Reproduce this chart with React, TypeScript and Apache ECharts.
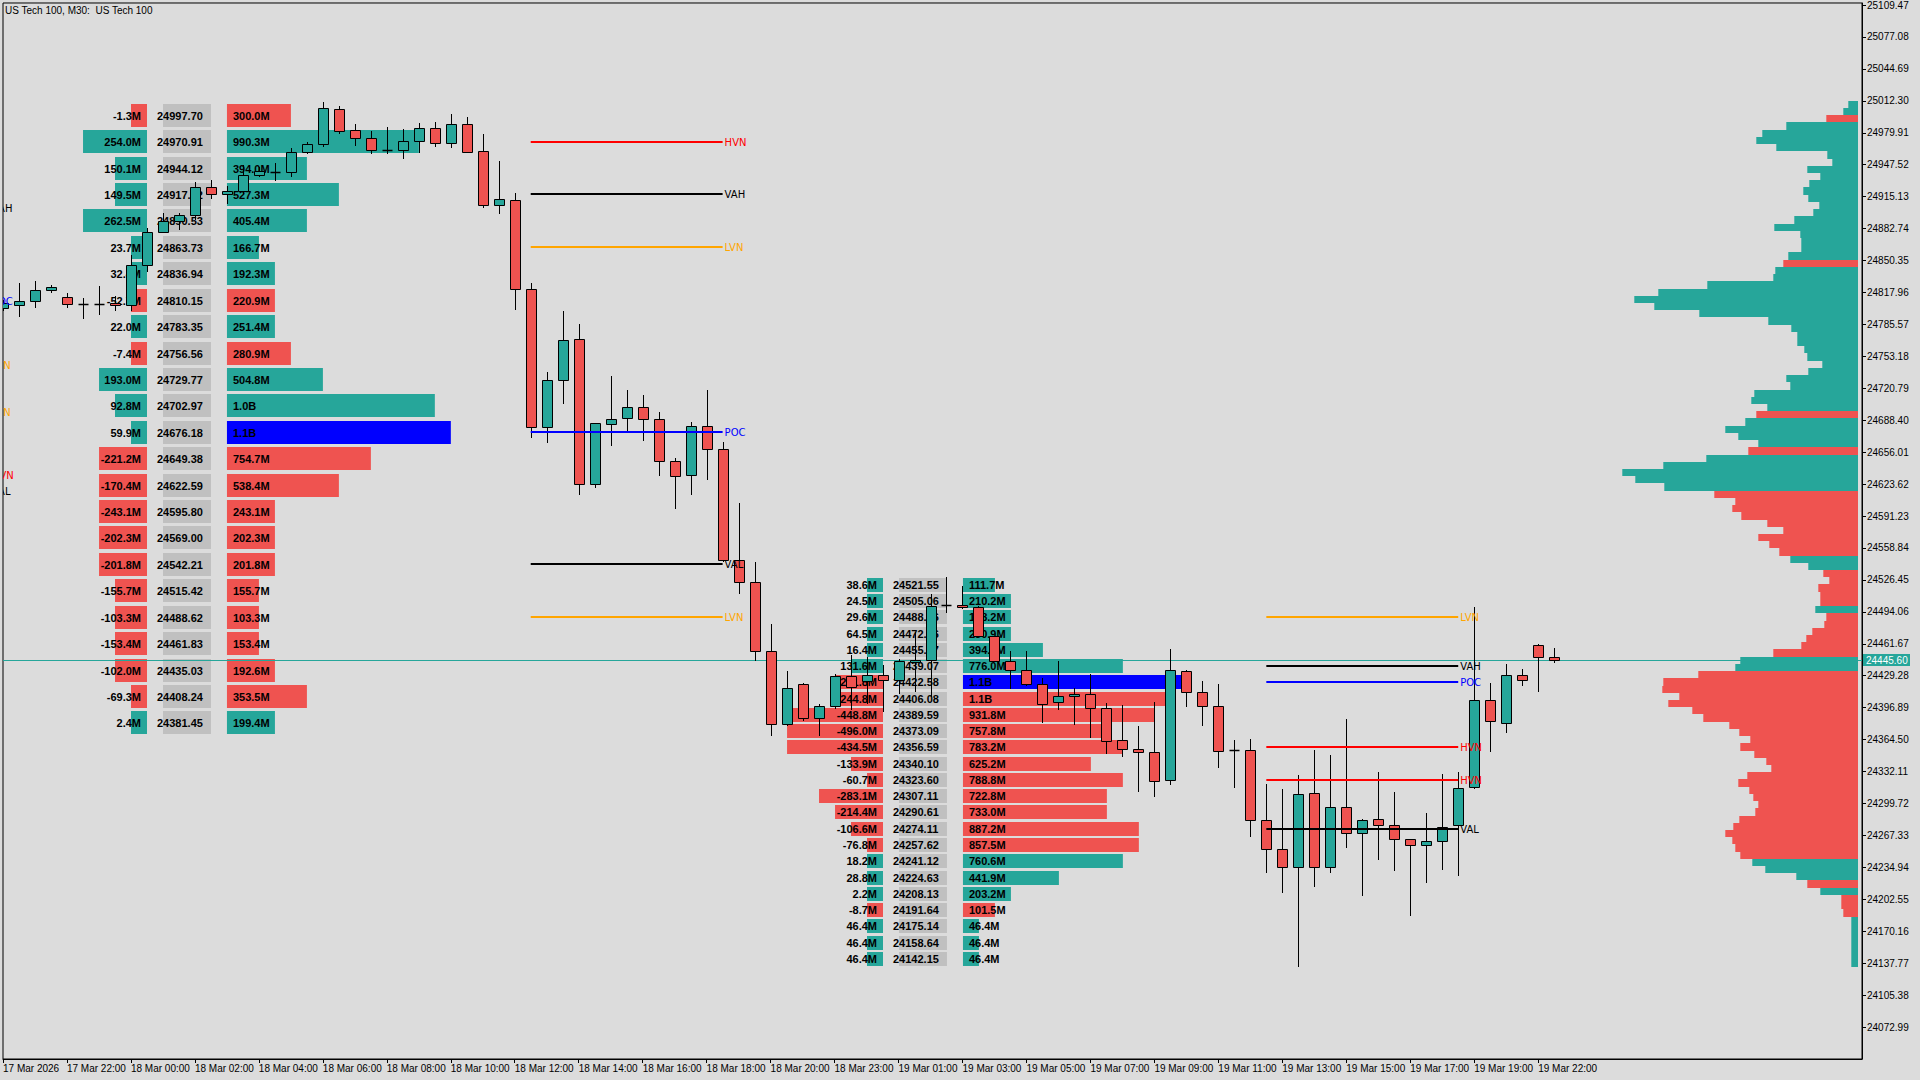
import React, { useEffect, useRef } from "react";
import * as echarts from "echarts";

// ---------- DATA ----------
const TITLE = "US Tech 100, M30:  US Tech 100";

const xTickLabels = [
  "17 Mar 2026", "17 Mar 22:00", "18 Mar 00:00", "18 Mar 02:00", "18 Mar 04:00",
  "18 Mar 06:00", "18 Mar 08:00", "18 Mar 10:00", "18 Mar 12:00", "18 Mar 14:00",
  "18 Mar 16:00", "18 Mar 18:00", "18 Mar 20:00", "18 Mar 23:00", "19 Mar 01:00",
  "19 Mar 03:00", "19 Mar 05:00", "19 Mar 07:00", "19 Mar 09:00", "19 Mar 11:00",
  "19 Mar 13:00", "19 Mar 15:00", "19 Mar 17:00", "19 Mar 19:00", "19 Mar 22:00",
];
const xTickEveryBars = 4;

const yTickValues = [
  24072.99, 24105.38, 24137.77, 24170.16, 24202.55, 24234.94, 24267.33, 24299.72,
  24332.11, 24364.5, 24396.89, 24429.28, 24461.67, 24494.06, 24526.45, 24558.84,
  24591.23, 24623.62, 24656.01, 24688.4, 24720.79, 24753.18, 24785.57, 24817.96,
  24850.35, 24882.74, 24915.13, 24947.52, 24979.91, 25012.3, 25044.69, 25077.08, 25109.47,
];
const yMin = 24040.6;
const yMax = 25111.5;
const yInterval = 32.39;

const opens = [
  24802.0, 24805.7, 24809.7, 24820.4, 24813.8, 24806.7, 24806.7, 24807.3, 24805.0, 24846.1,
  24879.1, 24890.7, 24896.7, 24925.1, 24917.6, 24921.0, 24937.2, 24940.6, 24939.9, 24960.1,
  24968.2, 25004.0, 24982.8, 24974.3, 24962.5, 24962.5, 24971.6, 24985.1, 24969.2, 24989.1,
  24961.5, 24907.1, 24912.0, 24821.6, 24681.2, 24729.5, 24771.1, 24623.8, 24684.3, 24690.2,
  24701.4, 24689.3, 24646.8, 24633.2, 24682.1, 24659.0, 24547.0, 24524.3, 24454.8, 24380.7,
  24421.1, 24386.7, 24398.9, 24429.0, 24423.7, 24429.8, 24425.2, 24443.4, 24445.4, 24501.1,
  24501.1, 24499.1, 24469.3, 24444.7, 24435.3, 24421.1, 24402.9, 24408.9, 24411.0, 24396.8,
  24364.1, 24354.9, 24352.3, 24324.0, 24434.3, 24413.0, 24398.2, 24353.6, 24354.3, 24282.5,
  24253.2, 24235.0, 24310.8, 24235.0, 24296.6, 24269.3, 24283.5, 24277.4, 24263.2, 24257.2,
  24261.2, 24277.4, 24316.9, 24404.9, 24381.7, 24430.2, 24460.6, 24448.4,
];
const highs = [
  24810.0, 24827.2, 24829.2, 24825.9, 24817.1, 24812.4, 24824.2, 24814.1, 24855.6, 24883.2,
  24898.4, 24898.4, 24929.8, 24931.5, 24926.4, 24947.4, 24945.6, 24949.0, 24964.2, 24970.9,
  25011.4, 25007.4, 24988.4, 24981.8, 24986.1, 24983.8, 24990.2, 24991.2, 24998.6, 24996.2,
  24978.3, 24951.3, 24918.8, 24827.1, 24737.2, 24799.1, 24785.5, 24686.0, 24733.1, 24719.1,
  24713.7, 24696.5, 24650.0, 24686.6, 24719.1, 24665.8, 24604.8, 24544.7, 24481.4, 24434.1,
  24422.0, 24400.9, 24431.0, 24449.8, 24448.0, 24440.6, 24446.0, 24473.4, 24512.2, 24529.7,
  24520.6, 24500.0, 24470.0, 24454.1, 24454.1, 24427.2, 24444.7, 24416.4, 24431.2, 24401.5,
  24399.4, 24377.9, 24402.9, 24456.5, 24435.0, 24424.4, 24420.4, 24363.7, 24364.7, 24319.9,
  24314.9, 24328.3, 24353.6, 24348.6, 24385.0, 24283.8, 24331.3, 24311.1, 24263.2, 24289.6,
  24329.3, 24331.3, 24499.4, 24422.4, 24441.6, 24435.6, 24461.0, 24457.8,
];
const lows = [
  24799.0, 24793.5, 24802.2, 24817.1, 24802.2, 24791.1, 24795.6, 24798.9, 24798.9, 24838.7,
  24878.5, 24881.6, 24891.0, 24912.9, 24907.5, 24917.6, 24935.5, 24930.5, 24935.5, 24958.8,
  24965.9, 24978.3, 24966.9, 24958.8, 24958.1, 24953.0, 24959.1, 24965.9, 24964.9, 24959.1,
  24904.1, 24897.6, 24800.4, 24669.9, 24664.9, 24705.1, 24612.9, 24619.3, 24661.8, 24676.6,
  24667.1, 24631.9, 24598.0, 24612.9, 24627.4, 24545.0, 24511.7, 24444.0, 24368.1, 24378.0,
  24383.3, 24368.1, 24396.0, 24394.1, 24400.9, 24392.4, 24411.0, 24412.6, 24407.6, 24492.6,
  24497.1, 24469.0, 24443.0, 24416.1, 24418.4, 24381.3, 24394.8, 24379.2, 24366.5, 24350.3,
  24346.9, 24311.4, 24305.8, 24318.0, 24397.4, 24378.2, 24336.1, 24315.5, 24265.9, 24229.4,
  24208.6, 24133.7, 24214.7, 24229.4, 24254.2, 24206.2, 24242.6, 24231.5, 24186.0, 24219.3,
  24232.5, 24226.4, 24314.9, 24351.9, 24371.2, 24418.4, 24412.6, 24441.9,
];
const closes = [
  24807.0, 24809.7, 24820.8, 24823.9, 24806.7, 24806.7, 24806.7, 24805.0, 24846.1, 24879.1,
  24890.7, 24896.7, 24925.1, 24917.6, 24921.0, 24936.8, 24941.3, 24940.6, 24960.1, 24968.9,
  25005.3, 24981.8, 24974.3, 24962.5, 24962.5, 24971.6, 24985.1, 24969.2, 24989.1, 24960.8,
  24906.2, 24912.9, 24821.6, 24681.2, 24729.5, 24770.1, 24623.8, 24685.3, 24689.3, 24701.4,
  24689.3, 24646.8, 24632.3, 24682.1, 24659.0, 24547.0, 24524.3, 24454.8, 24380.7, 24416.9,
  24386.7, 24398.9, 24428.5, 24418.0, 24429.8, 24425.2, 24444.7, 24445.4, 24499.7, 24501.1,
  24499.1, 24470.0, 24444.7, 24435.3, 24421.1, 24400.9, 24408.9, 24411.0, 24396.8, 24363.4,
  24355.3, 24352.3, 24322.9, 24435.3, 24413.0, 24398.2, 24353.3, 24353.6, 24282.5, 24253.2,
  24235.0, 24309.8, 24235.0, 24296.6, 24269.3, 24282.5, 24277.4, 24263.2, 24257.2, 24261.2,
  24276.0, 24315.9, 24404.9, 24383.7, 24430.2, 24425.2, 24448.4, 24445.6,
];
const lastPrice = 24445.6;

// Session profile blocks (price row, delta in M, volume in M)
const block1AnchorBar = 9;
const block1Step = 26.79;
const block1Prices = [
  24997.7, 24970.91, 24944.12, 24917.32, 24890.53, 24863.73, 24836.94, 24810.15,
  24783.35, 24756.56, 24729.77, 24702.97, 24676.18, 24649.38, 24622.59, 24595.8,
  24569.0, 24542.21, 24515.42, 24488.62, 24461.83, 24435.03, 24408.24, 24381.45,
];
const block1Delta = [
  -1.3, 254.0, 150.1, 149.5, 262.5, 23.7, 32.4, -52.7, 22.0, -7.4, 193.0, 92.8,
  59.9, -221.2, -170.4, -243.1, -202.3, -201.8, -155.7, -103.3, -153.4, -102.0, -69.3, 2.4,
];
const block1Volume = [
  300.0, 990.3, 394.0, 527.3, 405.4, 166.7, 192.3, 220.9, 251.4, 280.9, 504.8, 1040,
  1100, 754.7, 538.4, 243.1, 202.3, 201.8, 155.7, 103.3, 153.4, 192.6, 353.5, 199.4,
];
const block1PocRow = 12;

const block2AnchorBar = 55;
const block2Step = 16.49;
const block2Prices = [
  24521.55, 24505.06, 24488.56, 24472.06, 24455.57, 24439.07, 24422.58, 24406.08,
  24389.59, 24373.09, 24356.59, 24340.1, 24323.6, 24307.11, 24290.61, 24274.11,
  24257.62, 24241.12, 24224.63, 24208.13, 24191.64, 24175.14, 24158.64, 24142.15,
];
const block2Delta = [
  38.6, 24.5, 29.6, 64.5, 16.4, 131.6, -221.8, -244.8, -448.8, -496.0, -434.5, -133.9,
  -60.7, -283.1, -214.4, -106.6, -76.8, 18.2, 28.8, 2.2, -8.7, 46.4, 46.4, 46.4,
];
const block2Volume = [
  111.7, 210.2, 178.2, 230.9, 394.5, 776.0, 1100, 1080, 931.8, 757.8, 783.2, 625.2,
  788.8, 722.8, 733.0, 887.2, 857.5, 760.6, 441.9, 203.2, 101.5, 46.4, 46.4, 46.4,
];
const block2PocRow = 6;
const profileCellMillions = 84.2;

// Key levels: [set] start bar, end bar, names, prices
const levelSetStart = [-13, 33, 79];
const levelSetEnd = [-0.82, 45, 91];
const levelSetNames = [
  ["VAH", "POC", "LVN", "LVN", "HVN", "VAL"],
  ["HVN", "VAH", "LVN", "POC", "VAL", "LVN"],
  ["LVN", "VAH", "POC", "HVN", "HVN", "VAL"],
];
const levelSetPrices = [
  [24904.1, 24809.0, 24744.6, 24696.7, 24632.9, 24616.7],
  [24970.91, 24917.32, 24863.73, 24676.18, 24542.21, 24488.62],
  [24488.56, 24439.07, 24422.58, 24356.59, 24323.6, 24274.11],
];

// Right-side volume profile of the visible range (relative volume per row, top to bottom)
const profileHigh = 25011.4;
const profileLow = 24133.7;
const profileVolume = [
  9.7, 14.7, 31.7, 71.7, 95.7, 101.7, 81.7, 30.7, 25.7, 50.7,
  37.7, 48.7, 54.7, 49.7, 38.7, 44.7, 63.7, 83.7, 57.7, 56.7,
  56.7, 69.7, 74.7, 82.7, 84.7, 150.7, 199.7, 223.7, 203.7, 158.7,
  89.7, 66.7, 60.7, 60.7, 53.7, 50.7, 35.7, 49.7, 71.7, 67.7,
  103.7, 106.7, 90.7, 101.7, 112.7, 132.7, 119.7, 99.7, 109.7, 151.7,
  194.7, 235.7, 222.7, 193.7, 143.7, 122.7, 125.7, 116.7, 90.7, 74.7,
  99.7, 88.7, 78.7, 67.7, 49.7, 34.7, 28.7, 39.7, 37.7, 37.7,
  42.7, 31.7, 33.7, 45.7, 51.7, 56.7, 84.7, 117.7, 122.7, 159.7,
  194.7, 195.7, 178.7, 189.7, 165.7, 154.7, 128.7, 118.7, 107.7, 117.7,
  103.7, 91.7, 86.7, 110.7, 119.7, 108.7, 104.7, 99.7, 102.7, 118.7,
  124.7, 132.7, 125.7, 122.7, 117.7, 105.7, 92.7, 61.7, 50.7, 37.7,
  16.7, 16.7, 14.7, 6.7, 6.7, 6.7, 6.7, 6.7, 6.7, 6.7,
];
// b = buy-dominant (teal), s = sell-dominant (red)
const profileSide = (
  "bbs" + "bbbbbbbbbbbbbbbbbbb" + "s" + "bbbbbbbbbbbbbbbbbbbb" + "s" + "bbbb" + "s" +
  "bbbbb" + "sssssssss" + "bb" + "sssss" + "b" + "ssssss" + "bb" +
  "ssssssssssssssssssssssssss" + "bbb" + "s" + "b" + "sss" + "bbbbbbb"
).split("");

// ---------- STYLE ----------
const TEAL = "#26A69A";
const RED = "#EF5350";
const POC_BLUE = "#0000FF";
const PRICE_BOX = "#C0C0C0";
const BG = "#DCDCDC";
const AXIS_FONT = "Liberation Sans, Arial, sans-serif";
const LEVEL_COLORS: Record<string, string> = {
  HVN: "#FF0000",
  VAH: "#000000",
  LVN: "#FFA500",
  POC: "#0000FF",
  VAL: "#000000",
};

function fmtVol(v: number) {
  return v >= 1000 ? (v / 1000).toFixed(1) + "B" : v.toFixed(1) + "M";
}

function blockRows(anchor: number, step: number, prices: number[], delta: number[], vol: number[], poc: number) {
  return prices.map((p, i) => [anchor, p, delta[i], vol[i], step, i === poc ? 1 : 0]);
}

function txt(x: number, y: number, text: string, fill: string, font: string, align: string) {
  return {
    type: "text",
    x,
    y,
    style: {
      text,
      fill,
      font,
      align,
      textAlign: align,
      verticalAlign: "middle",
      textVerticalAlign: "middle",
    },
  };
}

function buildOption(): any {
  const blockFont = 'bold 11px "Liberation Sans", Arial, sans-serif';
  const levelFont = '10px "DejaVu Sans", sans-serif';
  const xMax = 1860 / 16;

  const blockRender = (params: any, api: any) => {
    const anchor = api.value(0);
    const price = api.value(1);
    const d = api.value(2);
    const v = api.value(3);
    const step = api.value(4);
    const poc = api.value(5);
    const p = api.coord([anchor, price]);
    const unit = api.size([1, 0])[0];
    const h = Math.round(api.size([0, step])[1] * 0.86);
    const y0 = Math.round(p[1] - h / 2);
    const x0 = Math.round(p[0]);
    const dUnits = Math.max(1, Math.ceil(Math.abs(d) / profileCellMillions));
    const vUnits = Math.max(1, Math.ceil(v / profileCellMillions));
    const sideColor = d >= 0 ? TEAL : RED;
    const cy = y0 + h / 2;
    return {
      type: "group",
      children: [
        { type: "rect", shape: { x: x0 - dUnits * unit, y: y0, width: dUnits * unit, height: h }, style: { fill: sideColor } },
        { type: "rect", shape: { x: x0 + unit, y: y0, width: 3 * unit, height: h }, style: { fill: PRICE_BOX } },
        { type: "rect", shape: { x: x0 + 5 * unit, y: y0, width: vUnits * unit, height: h }, style: { fill: poc ? POC_BLUE : sideColor } },
        txt(x0 - 6, cy, d.toFixed(1) + "M", "#000", blockFont, "right"),
        txt(x0 + 10, cy, price.toFixed(2), "#000", blockFont, "left"),
        txt(x0 + 5 * unit + 6, cy, fmtVol(v), "#000", blockFont, "left"),
      ],
    };
  };

  const candleData = opens.map((o, i) => [i, o, highs[i], lows[i], closes[i]]);
  const candleRender = (params: any, api: any) => {
    const i = api.value(0);
    const o = api.value(1);
    const h = api.value(2);
    const l = api.value(3);
    const c = api.value(4);
    const pO = api.coord([i, o]);
    const pC = api.coord([i, c]);
    const pH = api.coord([i, h]);
    const pL = api.coord([i, l]);
    const cx = Math.round(pO[0]) + 0.5;
    const half = 5;
    const children: any[] = [
      { type: "line", shape: { x1: cx, y1: Math.round(pH[1]), x2: cx, y2: Math.round(pL[1]) }, style: { stroke: "#000", lineWidth: 1 } },
    ];
    const yo = Math.round(pO[1]);
    const yc = Math.round(pC[1]);
    if (Math.abs(yo - yc) < 2) {
      children.push({ type: "line", shape: { x1: cx - half, y1: yo + 0.5, x2: cx + half, y2: yo + 0.5 }, style: { stroke: "#000", lineWidth: 1.5 } });
    } else {
      const top = Math.min(yo, yc);
      children.push({
        type: "rect",
        shape: { x: cx - half, y: top + 0.5, width: half * 2, height: Math.abs(yo - yc) },
        style: { fill: c > o ? TEAL : RED, stroke: "#000", lineWidth: 1 },
      });
    }
    return { type: "group", children };
  };

  const levelData: any[] = [];
  levelSetNames.forEach((names, s) => {
    names.forEach((n, k) => {
      levelData.push([levelSetStart[s], levelSetEnd[s], levelSetPrices[s][k], s, k]);
    });
  });
  const levelRender = (params: any, api: any) => {
    const s = api.value(3);
    const k = api.value(4);
    const name = levelSetNames[s][k];
    const a = api.coord([api.value(0), api.value(2)]);
    const b = api.coord([api.value(1), api.value(2)]);
    const y = Math.round(a[1]);
    const color = LEVEL_COLORS[name];
    return {
      type: "group",
      children: [
        { type: "line", shape: { x1: a[0], y1: y, x2: b[0], y2: y }, style: { stroke: color, lineWidth: 2 } },
        txt(b[0] + 2, y, name, color, levelFont, "left"),
      ],
    };
  };

  const profStep = (profileHigh - profileLow) / profileVolume.length;
  const profileRender = (params: any, api: any) => {
    const v = api.value(0);
    const i = api.value(1);
    const top = profileHigh - i * profStep;
    const bot = top - profStep;
    const a = api.coord([v, top]);
    const b = api.coord([0, bot]);
    const y0 = Math.round(a[1]);
    const y1 = Math.round(b[1]);
    return {
      type: "rect",
      shape: { x: a[0], y: y0, width: b[0] - a[0], height: y1 - y0 },
      style: { fill: profileSide[i] === "s" ? RED : TEAL },
    };
  };

  const priceRender = (params: any, api: any) => {
    const cs = params.coordSys;
    const p = api.coord([0, api.value(1)]);
    const y = Math.round(p[1]) + 0.5;
    const right = cs.x + cs.width;
    return {
      type: "group",
      children: [
        { type: "line", shape: { x1: cs.x, y1: y, x2: right, y2: y }, style: { stroke: TEAL, lineWidth: 1 } },
        { type: "rect", shape: { x: right + 1, y: Math.round(p[1]) - 6, width: 47, height: 12 }, style: { fill: TEAL } },
        txt(right + 4, Math.round(p[1]), api.value(1).toFixed(2), "#FFFFFF", '10px "Liberation Sans", Arial, sans-serif', "left"),
      ],
    };
  };

  const xTickBars = xTickLabels.map((_, i) => i * xTickEveryBars);

  return {
    animation: false,
    backgroundColor: BG,
    graphic: [
      {
        type: "text",
        left: 5,
        top: 5,
        style: { text: TITLE, fill: "#000", font: '10px "Liberation Sans", Arial, sans-serif' },
      },
    ],
    grid: [
      { left: 2, right: 58, top: 2, bottom: 21, show: true, borderColor: "#000", borderWidth: 1, backgroundColor: "transparent" },
      { left: 1608, right: 62, top: 2, bottom: 21 },
    ],
    xAxis: [
      {
        gridIndex: 0,
        type: "value",
        min: 0,
        max: xMax,
        interval: xTickEveryBars,
        axisLine: { show: true, onZero: false, lineStyle: { color: "#000", width: 1 } },
        axisTick: { show: true, length: 4, customValues: xTickBars, lineStyle: { color: "#000" } },
        axisLabel: {
          customValues: xTickBars,
          showMinLabel: true,
          showMaxLabel: true,
          hideOverlap: false,
          align: "left",
          margin: 4,
          color: "#000",
          fontSize: 10,
          fontFamily: AXIS_FONT,
          formatter: (v: number) => {
            const idx = Math.round(v / xTickEveryBars);
            return Math.abs(v - idx * xTickEveryBars) < 1e-6 && xTickLabels[idx] ? xTickLabels[idx] : "";
          },
        },
        splitLine: { show: false },
      },
      { gridIndex: 1, type: "value", inverse: true, min: 0, max: 250, show: false },
    ],
    yAxis: [
      {
        gridIndex: 0,
        type: "value",
        position: "right",
        min: yMin,
        max: yMax,
        interval: yInterval,
        axisLine: { show: true, onZero: false, lineStyle: { color: "#000", width: 1 } },
        axisTick: { show: true, length: 4, customValues: yTickValues, lineStyle: { color: "#000" } },
        axisLabel: {
          customValues: yTickValues,
          showMinLabel: true,
          showMaxLabel: true,
          margin: 5,
          color: "#000",
          fontSize: 10,
          fontFamily: AXIS_FONT,
          formatter: (v: number) => v.toFixed(2),
        },
        splitLine: { show: false },
      },
      { gridIndex: 1, type: "value", min: yMin, max: yMax, show: false },
    ],
    series: [
      {
        type: "custom",
        name: "range-profile",
        xAxisIndex: 1,
        yAxisIndex: 1,
        z: 2,
        clip: true,
        silent: true,
        data: profileVolume.map((v, i) => [v, i]),
        renderItem: profileRender,
      },
      {
        type: "custom",
        name: "block1",
        z: 2,
        clip: true,
        silent: true,
        data: blockRows(block1AnchorBar, block1Step, block1Prices, block1Delta, block1Volume, block1PocRow),
        renderItem: blockRender,
      },
      {
        type: "custom",
        name: "block2",
        z: 2,
        clip: true,
        silent: true,
        data: blockRows(block2AnchorBar, block2Step, block2Prices, block2Delta, block2Volume, block2PocRow),
        renderItem: blockRender,
      },
      {
        type: "custom",
        name: "price-line",
        z: 3,
        clip: false,
        silent: true,
        data: [[0, lastPrice]],
        renderItem: priceRender,
      },
      {
        type: "custom",
        name: "candles",
        z: 4,
        clip: true,
        silent: true,
        data: candleData,
        renderItem: candleRender,
      },
      {
        type: "custom",
        name: "levels",
        z: 5,
        clip: true,
        silent: true,
        data: levelData,
        renderItem: levelRender,
      },
    ],
  };
}

export default function App() {
  const ref = useRef<HTMLDivElement>(null);
  useEffect(() => {
    if (!ref.current) return;
    const chart = echarts.init(ref.current, null, { renderer: "svg" });
    chart.setOption(buildOption());
    return () => chart.dispose();
  }, []);
  return (
    <div
      ref={ref}
      style={{ position: "fixed", left: 0, top: 0, width: 1920, height: 1080 }}
    />
  );
}
